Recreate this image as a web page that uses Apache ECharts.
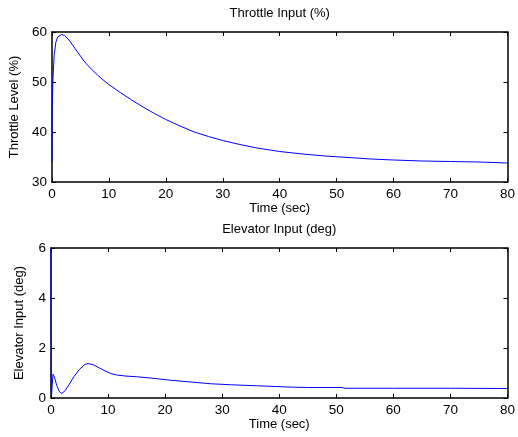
<!DOCTYPE html>
<html>
<head>
<meta charset="utf-8">
<script src="https://cdn.jsdelivr.net/npm/echarts@6/dist/echarts.min.js"></script>
<style>
  html, body { margin: 0; padding: 0; background: #fff; }
  #chart { width: 518px; height: 437px; }
</style>
</head>
<body>
<div id="chart"></div>
<script>
// ── Data ──────────────────────────────────────────────────────────────
const throttleTime = [0, 0.05, 0.2, 0.4, 0.7, 1.0, 1.3, 1.7, 2.2, 3, 4, 5, 5.5, 6, 7, 8, 9, 10,
  12, 14, 16, 18, 20, 22.5, 25, 27.5, 30, 33, 36, 40, 44, 48, 52, 56, 60, 65, 70, 75, 80];
const throttleLevel = [34, 45, 51, 55.5, 58, 59, 59.4, 59.5, 59.3, 58.4, 56.8, 55.2, 54.4, 53.7, 52.5, 51.4, 50.4, 49.5,
  47.9, 46.4, 45, 43.7, 42.5, 41.2, 40.0, 39.1, 38.3, 37.5, 36.8, 36.1, 35.6, 35.2, 34.9, 34.6, 34.4, 34.2, 34.1, 34.0, 33.8];

const elevatorTime = [0, 0.02, 0.05, 0.1, 0.2, 0.35, 0.6, 1.0, 1.5, 1.9, 2.5, 3.2, 4, 5, 6, 6.5, 7.5, 8.5, 9.5,
  10.5, 11.5, 13, 15, 17, 19, 21, 23, 25, 28, 31.5, 36, 41.5, 45, 51, 51.5, 60, 70, 80];
const elevatorInput = [6, 3, 0.3, 0.1, 0.5, 0.95, 0.85, 0.5, 0.25, 0.18, 0.3, 0.55, 0.85, 1.15, 1.35, 1.38, 1.32, 1.2, 1.08,
  0.98, 0.92, 0.88, 0.85, 0.81, 0.76, 0.71, 0.67, 0.63, 0.57, 0.53, 0.49, 0.44, 0.42, 0.42, 0.39, 0.39, 0.39, 0.38];

const timeTicks = [0, 80, 10];       // min, max, interval
const throttleTicks = [30, 60, 10];
const elevatorTicks = [0, 6, 2];

// ── Style ─────────────────────────────────────────────────────────────
const fontFamily = '"Liberation Sans", Arial, sans-serif';
const fontSize = 13;
const lineColor = '#0000ff';
const axisColor = '#000';

const zip = (xs, ys) => xs.map((x, i) => [x, ys[i]]);

const chart = echarts.init(document.getElementById('chart'), null, { renderer: 'canvas' });

const baseAxis = {
  type: 'value',
  axisLine: { show: true, onZero: false, lineStyle: { color: axisColor, width: 1.5 } },
  axisTick: { show: true, inside: true, length: 4, lineStyle: { color: axisColor } },
  splitLine: { show: false },
  nameTextStyle: { fontFamily, fontSize, color: '#000' },
  axisLabel: { fontFamily, fontSize: 13.5, color: '#000' }
};

function xAxes(gridIndex, title) {
  return [
    Object.assign({}, baseAxis, {
      gridIndex, position: 'bottom', min: timeTicks[0], max: timeTicks[1], interval: timeTicks[2],
      name: 'Time (sec)', nameLocation: 'middle', nameGap: 20,
      axisLabel: Object.assign({}, baseAxis.axisLabel, { margin: 5 })
    }),
    Object.assign({}, baseAxis, {
      gridIndex, position: 'top', min: timeTicks[0], max: timeTicks[1], interval: timeTicks[2],
      name: title, nameLocation: 'middle', nameGap: 12,
      axisLabel: { show: false }
    })
  ];
}

function yAxes(gridIndex, ticks, name) {
  return [
    Object.assign({}, baseAxis, {
      gridIndex, position: 'left', min: ticks[0], max: ticks[1], interval: ticks[2],
      name, nameLocation: 'middle', nameGap: 25,
      axisLabel: Object.assign({}, baseAxis.axisLabel, { margin: 5 })
    }),
    Object.assign({}, baseAxis, {
      gridIndex, position: 'right', min: ticks[0], max: ticks[1], interval: ticks[2],
      axisLabel: { show: false }
    })
  ];
}

chart.setOption({
  animation: false,
  backgroundColor: '#fff',
  grid: [
    { left: 51, right: 7, top: 32, height: 150 },
    { left: 51, right: 7, top: 248, height: 150 }
  ],
  xAxis: [...xAxes(0, 'Throttle Input (%)'), ...xAxes(1, 'Elevator Input (deg)')],
  yAxis: [...yAxes(0, throttleTicks, 'Throttle Level (%)'), ...yAxes(1, elevatorTicks, 'Elevator Input (deg)')],
  series: [
    {
      type: 'line', xAxisIndex: 0, yAxisIndex: 0, showSymbol: false, smooth: false,
      lineStyle: { color: lineColor, width: 1 }, itemStyle: { color: lineColor },
      data: zip(throttleTime, throttleLevel)
    },
    {
      type: 'line', xAxisIndex: 2, yAxisIndex: 2, showSymbol: false, smooth: false,
      lineStyle: { color: lineColor, width: 1 }, itemStyle: { color: lineColor },
      data: zip(elevatorTime, elevatorInput)
    }
  ]
});
</script>
</body>
</html>
